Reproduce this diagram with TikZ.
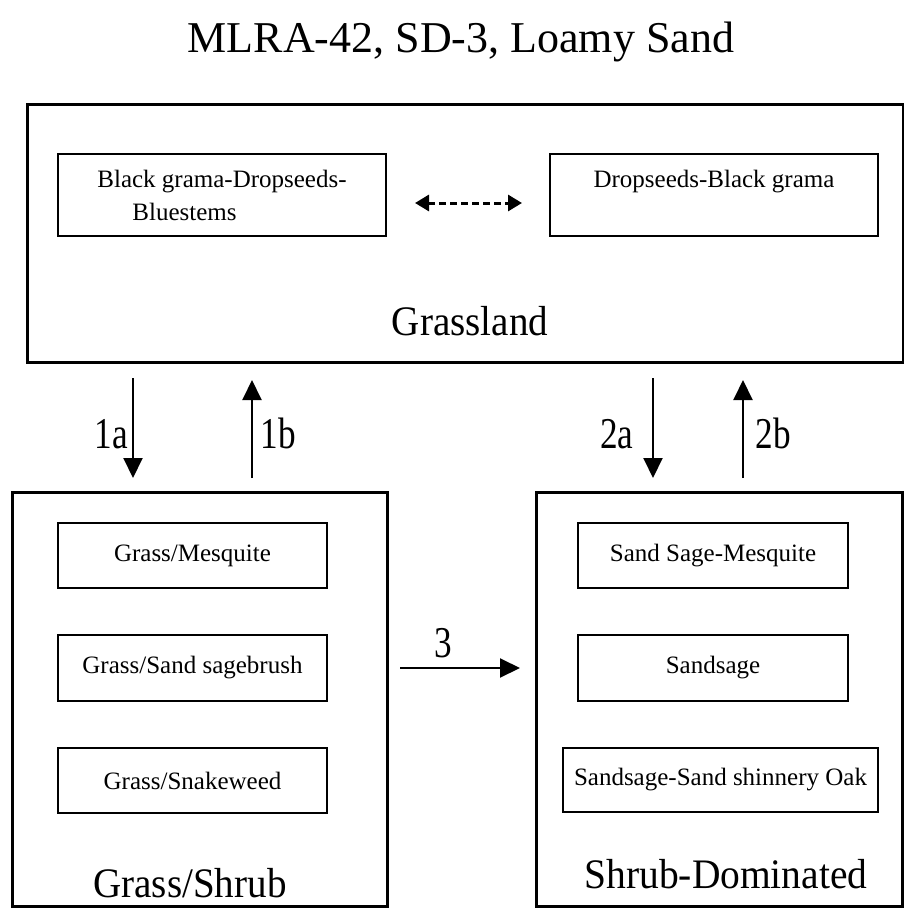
\documentclass[tikz,border=0pt]{standalone}
\usepackage{fontspec}
\usepackage{graphicx}
\setmainfont{Liberation Serif}
\usetikzlibrary{arrows.meta}
\newcommand{\narrow}[2]{\scalebox{#1}[1]{#2}}
\begin{document}
\begin{tikzpicture}[x=1bp,y=-1bp,
  bigbox/.style={draw,line width=3bp,inner sep=0pt},
  smallbox/.style={draw,line width=2.6bp,inner sep=0pt,font=\fontsize{25bp}{33bp}\selectfont},
  grouplabel/.style={anchor=base,inner sep=0pt,font=\fontsize{42bp}{48bp}\selectfont},
  numlabel/.style={anchor=base,inner sep=0pt,font=\fontsize{44bp}{48bp}\selectfont},
  arr/.style={line width=2bp,-{Triangle[length=20bp,width=19bp]}},
  dasharr/.style={line width=3bp,dash pattern=on 7bp off 4bp,{Triangle[length=14bp,width=16bp]}-{Triangle[length=14bp,width=16bp]}}
]
\useasboundingbox (0,0) rectangle (904,908);

% title
\node[anchor=base,inner sep=0pt,font=\fontsize{44bp}{50bp}\selectfont] (title) at (461,52) {MLRA-42, SD-3, Loamy Sand};

% big boxes
\node[bigbox,minimum width=875bp,minimum height=257bp] (grassland) at (465.5,233.5) {};
\node[bigbox,minimum width=374bp,minimum height=414bp] (grassshrub) at (200,699) {};
\node[bigbox,minimum width=366bp,minimum height=414bp] (shrubdom) at (719,699) {};

% group labels
\node[grouplabel] (glab) at (470,335) {\narrow{0.93}{Grassland}};
\node[grouplabel] (gslab) at (190,897) {\narrow{0.93}{Grass/Shrub}};
\node[grouplabel] (sdlab) at (726,888) {\narrow{0.94}{Shrub-Dominated}};

% grassland states
\node[smallbox,align=left,minimum width=328bp,minimum height=82bp] (bgdb) at (222,195) {Black grama-Dropseeds-\\\hspace*{35bp}Bluestems};
\node[smallbox,align=center,minimum width=328bp,minimum height=82bp] (dbg) at (714,195) {Dropseeds-Black grama\\\mbox{}};
\coordinate (dl) at (415,203);
\coordinate (dr) at (522,203);
\draw[dasharr] (dl) -- (dr);

% grass/shrub states
\node[smallbox,minimum width=269bp,minimum height=65bp] (gm) at (192.5,555.5) {Grass/Mesquite};
\node[smallbox,minimum width=269bp,minimum height=66bp] (gsb) at (192.5,668) {Grass/Sand sagebrush};
\node[smallbox,minimum width=269bp,minimum height=65bp] (gsw) at (192.5,780.5) {Grass/Snakeweed};

% shrub-dominated states
\node[smallbox,minimum width=270bp,minimum height=65bp] (ssm) at (713,555.5) {Sand Sage-Mesquite};
\node[smallbox,minimum width=270bp,minimum height=66bp] (ss) at (713,668) {Sandsage};
\node[smallbox,minimum width=315bp,minimum height=64bp] (sso) at (720.5,780) {Sandsage-Sand shinnery Oak};

% transitions
\coordinate (a1s) at (133,378); \coordinate (a1e) at (133,478);
\coordinate (b1s) at (252,478); \coordinate (b1e) at (252,380);
\coordinate (a2s) at (653,378); \coordinate (a2e) at (653,478);
\coordinate (b2s) at (743,478); \coordinate (b2e) at (743,380);
\coordinate (t3s) at (400,668); \coordinate (t3e) at (520,668);
\draw[arr] (a1s) -- (a1e);
\draw[arr] (b1s) -- (b1e);
\draw[arr] (a2s) -- (a2e);
\draw[arr] (b2s) -- (b2e);
\draw[arr] (t3s) -- (t3e);

\node[numlabel] (l1a) at (111.5,448) {\narrow{0.8}{1a}};
\node[numlabel] (l1b) at (278,448) {\narrow{0.8}{1b}};
\node[numlabel] (l2a) at (617,448) {\narrow{0.8}{2a}};
\node[numlabel] (l2b) at (773,448) {\narrow{0.8}{2b}};
\node[numlabel] (l3) at (443,657) {\narrow{0.8}{3}};
\end{tikzpicture}
\end{document}
